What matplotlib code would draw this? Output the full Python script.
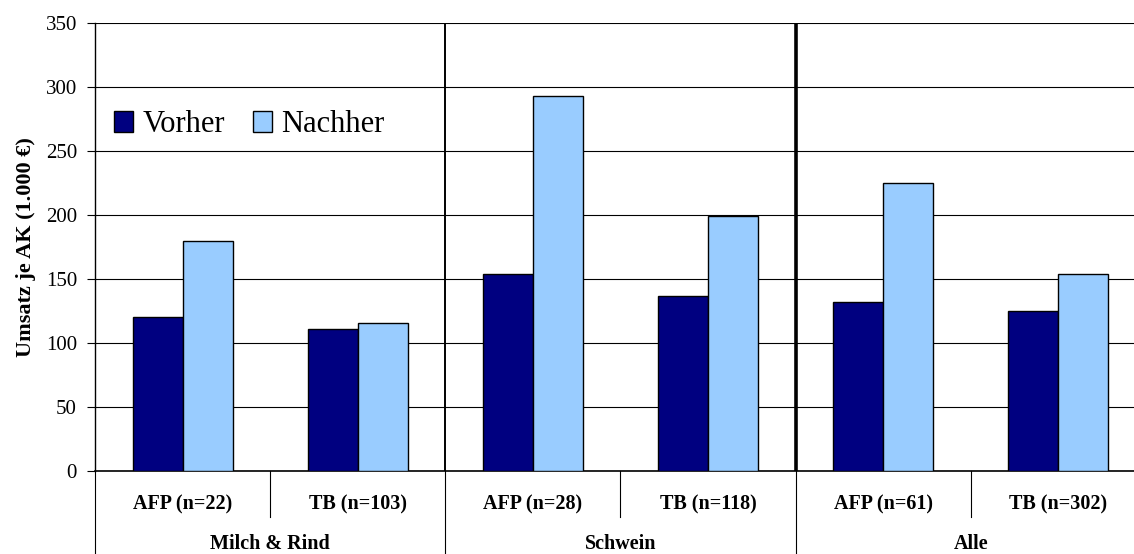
import matplotlib.pyplot as plt
import numpy as np
from matplotlib.patches import Patch
import matplotlib.transforms as mtransforms

plt.rcParams['font.family'] = ['Liberation Serif', 'DejaVu Serif']

groups = ['Milch & Rind', 'Schwein', 'Alle']
subcats = ['AFP (n=22)', 'TB (n=103)', 'AFP (n=28)', 'TB (n=118)', 'AFP (n=61)', 'TB (n=302)']
vorher = [120, 111, 154, 137, 132, 125]
nachher = [180, 116, 293, 199, 225, 154]

dark = '#000080'
light = '#99CCFF'

fig = plt.figure(figsize=(11.34, 5.54), dpi=100)
ax = fig.add_axes([95 / 1134, 83 / 554, 1051 / 1134, 448 / 554])

x = np.arange(len(subcats))
w = 1 / 3.5
ax.bar(x - w / 2, vorher, w, color=dark, edgecolor='black', linewidth=1, zorder=3)
ax.bar(x + w / 2, nachher, w, color=light, edgecolor='black', linewidth=1, zorder=3)

ax.set_xlim(-0.5, 5.5)
ax.set_ylim(0, 350)
ax.set_yticks(range(0, 351, 50))
ax.yaxis.grid(True, color='black', linewidth=0.8, zorder=0)
ax.set_axisbelow(True)
ax.tick_params(axis='y', labelsize=15, length=6, direction='out', pad=7)
ax.set_xticks([])
for s in ['top', 'right']:
    ax.spines[s].set_visible(False)
ax.spines['left'].set_linewidth(1)
ax.spines['bottom'].set_linewidth(1.2)

ax.set_ylabel('Umsatz je AK (1.000 €)', fontsize=16, fontweight='bold', labelpad=7)

# group separators inside plot
ax.axvline(1.5, color='black', linewidth=1.4, zorder=4)
ax.axvline(3.5, color='black', linewidth=2.6, zorder=4)

# hierarchical x labels
trans = mtransforms.blended_transform_factory(ax.transData, ax.transAxes)
for i, lab in enumerate(subcats):
    ax.text(i, -0.075, lab, transform=trans, ha='center', va='center',
            fontsize=14.5, fontweight='bold')
for i in [0.5, 2.5, 4.5]:
    ax.plot([i, i], [0, -0.102], transform=trans, color='black', linewidth=0.8, clip_on=False)
for i in [-0.5, 1.5, 3.5, 5.5]:
    ax.plot([i, i], [0, -0.2], transform=trans, color='black', linewidth=0.8, clip_on=False)
for j, g in enumerate(groups):
    ax.text(2 * j + 0.5, -0.162, g, transform=trans, ha='center', va='center',
            fontsize=14.5, fontweight='bold')

handles = [Patch(facecolor=dark, edgecolor='black'), Patch(facecolor=light, edgecolor='black')]
ax.legend(handles, ['Vorher', 'Nachher'], loc='upper left', bbox_to_anchor=(0.006, 0.833),
          ncol=2, frameon=False, fontsize=22, handlelength=0.65, handleheight=0.65,
          handletextpad=0.3, columnspacing=0.9, borderaxespad=0)

fig.savefig('out.png', dpi=100)
